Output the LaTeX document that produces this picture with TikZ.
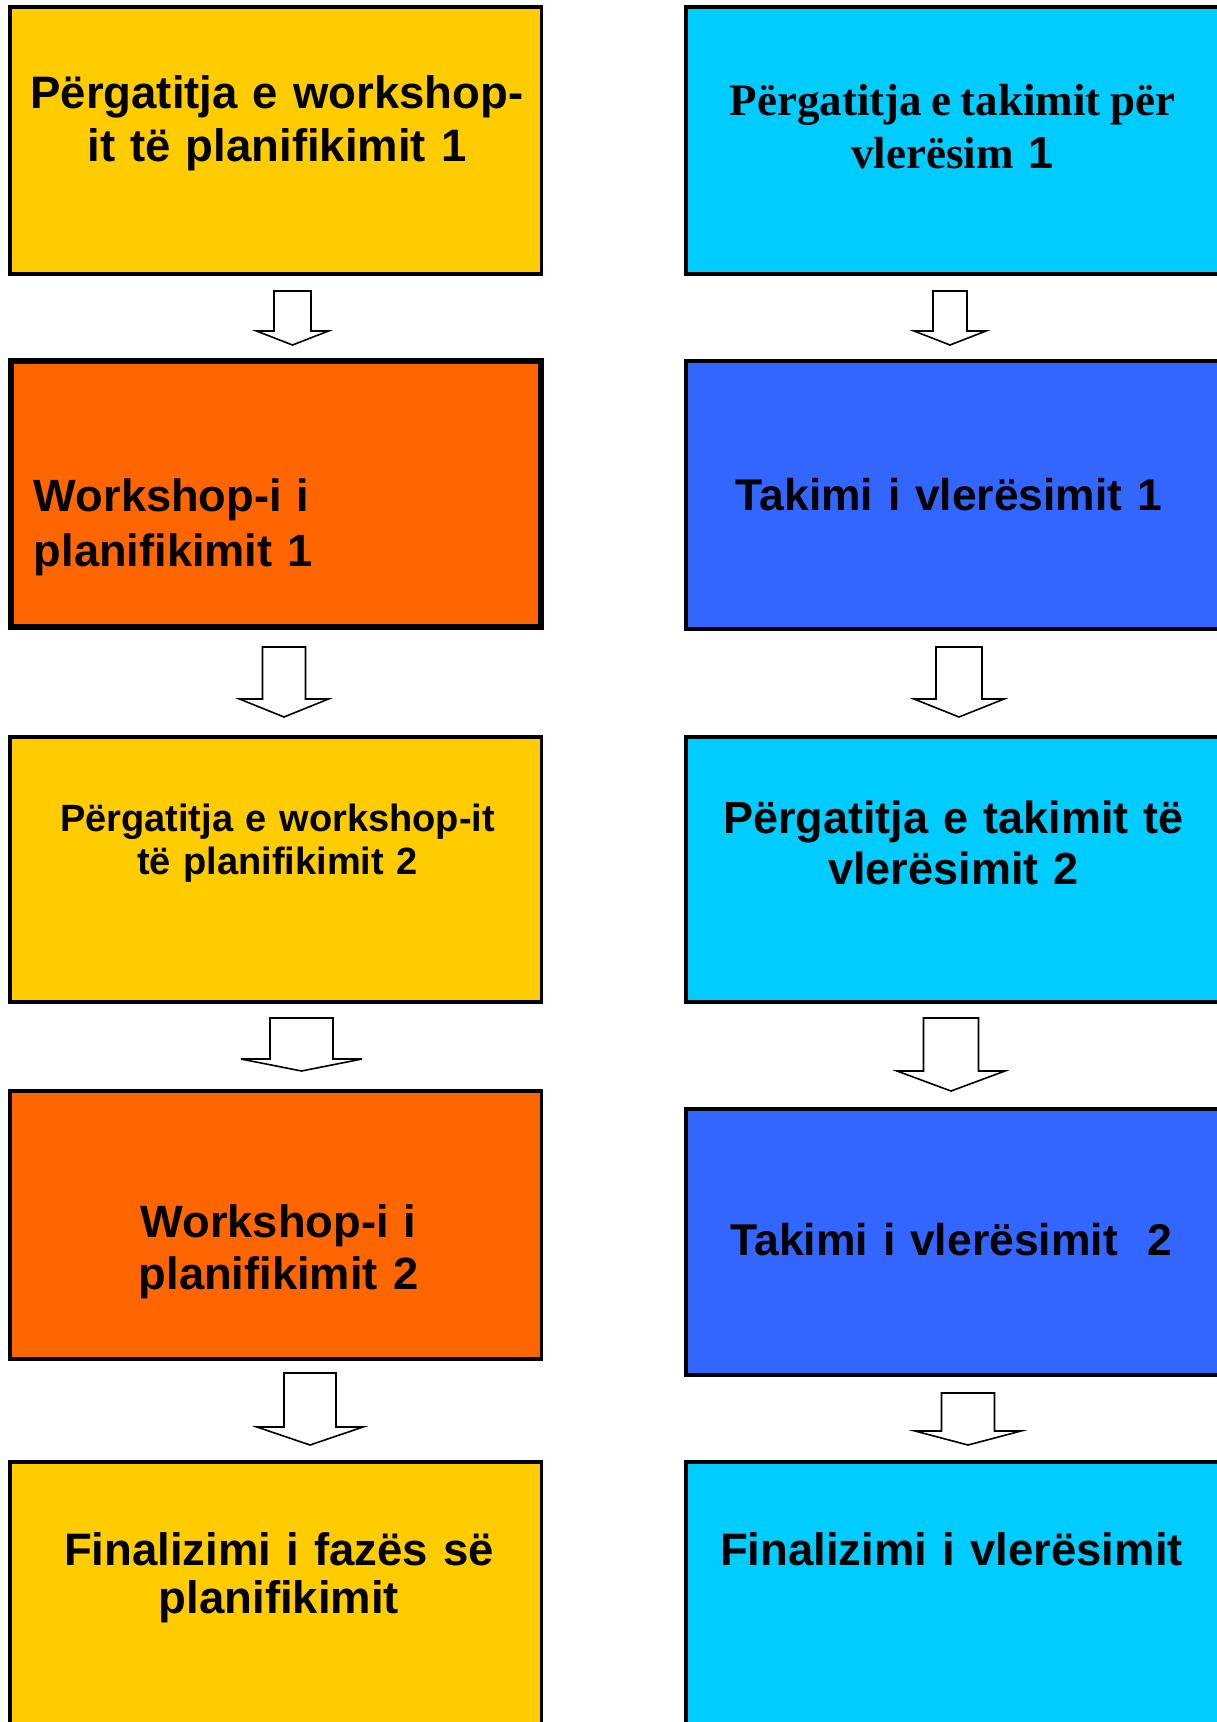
\documentclass[tikz,border=0pt]{standalone}
\usepackage{fontspec}
\setmainfont{Liberation Sans}
\newfontfamily\timesf{Liberation Serif}
\definecolor{ylw}{HTML}{FFCC00}
\definecolor{org}{HTML}{FF6600}
\definecolor{cyn}{HTML}{00CCFF}
\definecolor{blu}{HTML}{3366FF}
\tikzset{
  box/.style={draw=black, line width=3.8pt, inner sep=0pt, outer sep=0pt, rectangle},
  lbl/.style={inner sep=0pt, outer sep=0pt, text=black},
  blockarrow/.style={draw=black, fill=white, line width=1.6pt, line join=miter},
}
\newcommand\myarrow[6]{%
  \draw[blockarrow] (#1-#2,#4) -- (#1+#2,#4) -- (#1+#2,#5) -- (#1+#3,#5) -- (#1,#6) -- (#1-#3,#5) -- (#1-#2,#5) -- cycle;}
\begin{document}
\begin{tikzpicture}[x=1pt,y=-1pt]
\path[use as bounding box, fill=white] (0,0) rectangle (1217,1722);

% left column boxes
\node[box, fill=ylw, minimum width=531.5pt, minimum height=267pt] (L1) at (275.75,140.5) {};
\node[box, fill=org, line width=6pt, minimum width=530pt, minimum height=266pt] (L2) at (276,494) {};
\node[box, fill=ylw, minimum width=531.5pt, minimum height=265pt] (L3) at (275.75,869.5) {};
\node[box, fill=org, minimum width=531.5pt, minimum height=268pt] (L4) at (275.75,1225) {};
\node[box, fill=ylw, minimum width=531.5pt, minimum height=268pt] (L5) at (275.75,1596) {};

% right column boxes
\node[box, fill=cyn, minimum width=539pt, minimum height=267pt] (R1) at (955.5,140.5) {};
\node[box, fill=blu, minimum width=539pt, minimum height=268pt] (R2) at (955.5,495) {};
\node[box, fill=cyn, minimum width=539pt, minimum height=265pt] (R3) at (955.5,869.5) {};
\node[box, fill=blu, minimum width=539pt, minimum height=266pt] (R4) at (955.5,1242) {};
\node[box, fill=cyn, minimum width=539pt, minimum height=268pt] (R5) at (955.5,1596) {};

% block arrows
\myarrow{292.5}{18.5}{36}{291}{331}{345}
\myarrow{950}{17}{36}{291}{331}{345}
\myarrow{284}{21.5}{44.5}{647}{699}{717}
\myarrow{959}{23}{45}{647}{699}{717}
\myarrow{301.5}{31.5}{60.5}{1018}{1059}{1071}
\myarrow{951}{27.5}{54}{1018}{1071}{1091}
\myarrow{310}{26}{53}{1373}{1427}{1445}
\myarrow{968}{26.5}{53}{1393}{1431}{1445}

% texts
\node[lbl, anchor=base, text width=530pt, align=center, font=\bfseries\fontsize{45.5}{53}\selectfont] (tL1) at (277,108) {Përgatitja e workshop-\\it të planifikimit 1};
\node[lbl, anchor=base west, text width=400pt, align=left, font=\bfseries\fontsize{45.2}{55}\selectfont] (tL2) at (34,511) {Workshop-i i\\planifikimit 1};
\node[lbl, anchor=base, text width=530pt, align=center, font=\bfseries\fontsize{38}{43}\selectfont] (tL3) at (277.5,831) {Përgatitja e workshop-it\\të planifikimit 2};
\node[lbl, anchor=base, text width=530pt, align=center, font=\bfseries\fontsize{45.3}{52}\selectfont] (tL4) at (278.5,1237) {Workshop-i i\\planifikimit 2};
\node[lbl, anchor=base, text width=530pt, align=center, font=\bfseries\fontsize{45.5}{48}\selectfont] (tL5) at (279,1565) {Finalizimi i fazës së\\planifikimit};

\node[lbl, anchor=base, text width=530pt, align=center, font=\bfseries\fontsize{45}{53}\selectfont] (tR1) at (952.5,115) {{\timesf\spaceskip=0.21em Përgatitja e takimit për}\\{\timesf vlerësim} 1};
\node[lbl, anchor=base, text width=530pt, align=center, font=\bfseries\fontsize{44.4}{53}\selectfont] (tR2) at (949,510) {Takimi i vlerësimit 1};
\node[lbl, anchor=base, text width=530pt, align=center, font=\bfseries\fontsize{45}{51}\selectfont] (tR3) at (953.5,833) {Përgatitja e takimit të\\vlerësimit 2};
\node[lbl, anchor=base, text width=530pt, align=center, font=\bfseries\fontsize{44.5}{53}\selectfont] (tR4) at (951.5,1255) {Takimi i vlerësimit\ \ 2};
\node[lbl, anchor=base, text width=530pt, align=center, font=\bfseries\fontsize{45.5}{53}\selectfont] (tR5) at (951.5,1565) {Finalizimi i vlerësimit};
\end{tikzpicture}
\end{document}
